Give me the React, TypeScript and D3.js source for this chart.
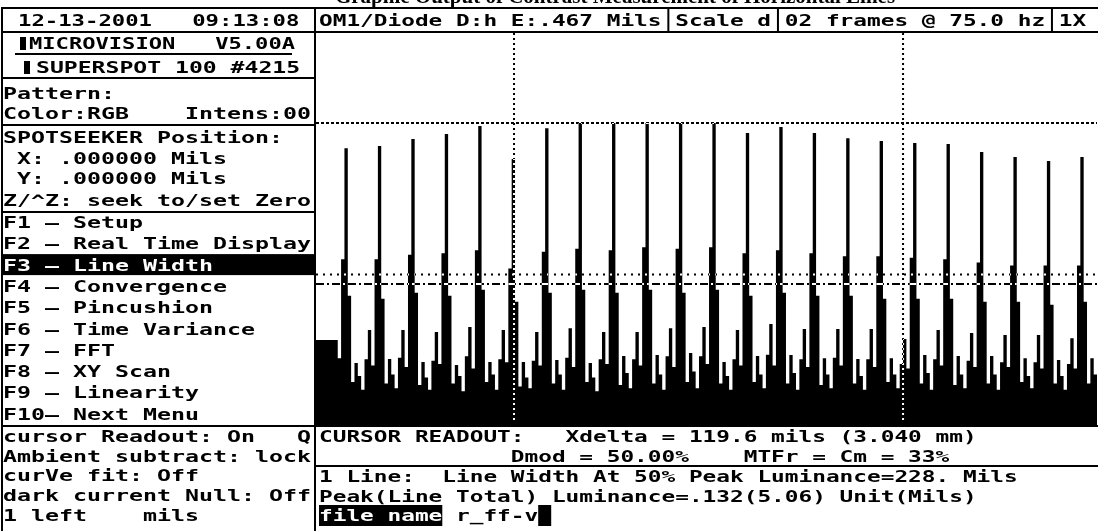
import React from 'react';
import * as d3 from 'd3';

// ---------- data ----------
const TITLE = 'Graphic Output of Contrast Measurement of Horizontal Lines';
const HEADER_DATE = '12-13-2001   09:13:08';
const HEADER_FIELDS = ['OM1/Diode D:h E:.467 Mils', 'Scale d', '02 frames @ 75.0 hz', '1X'];
const HEADER_FIELD_COLS = [0, 26, 34, 54];
const HEADER_SEP_COLS = [25.5, 33.5, 53.5];

const INSTRUMENT = 'MICROVISION   V5.00A';
const DEVICE = 'SUPERSPOT 100 #4215';

const LEFT_ROWS: [string, number][] = [
  ['Pattern:', 0],
  ['Color:RGB    Intens:00', 0],
  ['SPOTSEEKER Position:', 0],
  ['X: .000000 Mils', 1],
  ['Y: .000000 Mils', 1],
  ['Z/^Z: seek to/set Zero', 0],
];
const MENU_ITEMS = [
  'F1 — Setup',
  'F2 — Real Time Display',
  'F3 — Line Width',
  'F4 — Convergence',
  'F5 — Pincushion',
  'F6 — Time Variance',
  'F7 — FFT',
  'F8 — XY Scan',
  'F9 — Linearity',
  'F10— Next Menu',
];
const MENU_SELECTED = 2;
const STATUS_ROWS = [
  'cursor Readout: On   Q',
  'Ambient subtract: lock',
  'curVe fit: Off',
  'dark current Null: Off',
  '1 left    mils',
];
const READOUT_ROWS: [string, number][][] = [
  [['CURSOR READOUT:', 0], ['Xdelta = 119.6 mils (3.040 mm)', 18]],
  [['Dmod = 50.00%', 14], ['MTFr = Cm = 33%', 31]],
];
const RESULT_ROWS = [
  '1 Line:  Line Width At 50% Peak Luminance=228. Mils',
  'Peak(Line Total) Luminance=.132(5.06) Unit(Mils)',
];
const FILE_LABEL = 'file name';
const FILE_NAME = 'r_ff-v';

// luminance profile (% of peak), one value per sample across the scan
const luminance: number[] = [
  28.4, 28.4, 28.4, 28.4, 28.4, 28.4, 28.4, 22.4, 55.0, 91.7,
  43, 14.5, 20.8, 16.5, 12.0, 22.0, 31.7, 20.0, 55.0, 92.4,
  42, 14.0, 22.1, 17.0, 12.5, 22.5, 31.7, 19.5, 56.5, 94.7,
  44, 13.5, 21.1, 16.0, 12.0, 21.5, 31.0, 20.5, 57.0, 96.4,
  43, 14.0, 20.1, 16.5, 11.5, 23.0, 32.7, 19.0, 58.0, 99.0,
  45, 14.5, 21.1, 17.0, 12.0, 22.0, 31.7, 21.0, 52.0, 88.1,
  41, 13.0, 21.1, 16.0, 12.5, 21.5, 31.0, 20.0, 57.5, 98.3,
  44, 14.0, 21.8, 17.0, 12.0, 22.5, 32.3, 19.5, 58.5, 100,
  45, 14.5, 20.8, 16.0, 11.5, 22.0, 31.0, 20.5, 58.0, 100,
  44, 13.5, 23.1, 17.5, 12.5, 22.0, 31.0, 20.0, 59.0, 100,
  45, 14.0, 23.4, 17.0, 12.0, 23.0, 32.3, 19.5, 58.5, 100,
  44, 14.5, 24.1, 18.0, 12.5, 23.0, 32.7, 20.5, 59.0, 100,
  45, 14.0, 21.1, 16.5, 12.0, 22.0, 31.7, 20.0, 57.0, 96.7,
  43, 14.5, 23.1, 17.0, 12.5, 23.5, 33.7, 20.0, 58.0, 98.7,
  44, 14.0, 23.4, 17.5, 12.0, 22.0, 32.0, 19.5, 57.0, 96.7,
  43, 13.5, 22.4, 17.0, 12.5, 22.5, 32.0, 20.0, 56.0, 95.0,
  43, 14.0, 22.1, 16.5, 12.0, 22.0, 32.0, 19.5, 56.0, 94.1,
  42, 14.5, 22.4, 17.0, 12.5, 20.5, 28.7, 19.0, 55.5, 93.4,
  42, 14.0, 23.4, 17.5, 12.0, 22.0, 31.7, 20.0, 55.0, 93.1,
  42, 13.5, 23.1, 17.0, 12.5, 21.5, 30.7, 19.5, 54.0, 90.4,
  41, 14.0, 23.1, 17.0, 12.0, 21.0, 30.0, 19.5, 53.0, 88.8,
  41, 14.5, 22.4, 16.5, 12.5, 21.0, 30.0, 19.0, 53.0, 87.5,
  40, 14.0, 21.8, 16.5, 12.0, 20.5, 29.0, 19.0, 53.0, 88.8,
  41, 14.0, 22.4, 17.0, 13.0,
];
const PEAK_LEVEL = 100;
const HALF_LEVEL = 50;
const THRESHOLD_LEVEL = 46.9;
const CURSORS = [59.2, 175.5]; // sample positions

// ---------- layout ----------
const W = 1098;
const H = 531;
const FONT = '"DejaVu Sans Mono", monospace';
const PL = 316, PR = 1097, PT = 33, PB = 426;
const STEP = 3.345;
const LCW = 14, LX0 = 3;
const RCW = 13.7, RX0 = 319;

function Txt({ x, cy, text, cw, fill = '#000' }: { x: number; cy: number; text: string; cw: number; fill?: string }) {
  return (
    <text
      x={x}
      y={cy + 6}
      fontFamily={FONT}
      fontWeight="bold"
      fontSize={16}
      fill={fill}
      textLength={text.length * cw}
      lengthAdjust="spacingAndGlyphs"
      style={{ whiteSpace: 'pre' }}
    >
      {text}
    </text>
  );
}

export default function App() {
  const x = d3.scaleLinear().domain([0, luminance.length - 1]).range([PL, PL + (luminance.length - 1) * STEP]);
  const y = d3.scaleLinear().domain([0, 100]).range([PB, 123]);
  const area = d3
    .area<number>()
    .x((_, i) => x(i))
    .y0(y(0))
    .y1((d) => y(d))
    .curve(d3.curveStep);

  const leftRowY = [93, 113, 137, 158, 178, 200];
  const menuY = (i: number) => 222 + i * 21.3;
  const statusY = [436, 456, 475, 495, 515];
  const readoutY = [436, 456];
  const resultY = [476, 496];
  const fileY = 515;

  const blk = '#000';

  return (
    <svg width={W} height={H} style={{ position: 'absolute', left: 0, top: 0, display: 'block' }}>
      <rect width={W} height={H} fill="#fff" />
      <defs>
        <clipPath id="plotclip">
          <rect x={PL} y={PT} width={PR - PL} height={PB - PT} />
        </clipPath>
      </defs>

      {/* title (cut off at top, as in the original screen capture) */}
      <text x={615} y={3} textAnchor="middle" fontFamily='"Liberation Serif", serif' fontWeight="bold" fontSize={21} fill={blk}>
        {TITLE}
      </text>

      {/* waveform */}
      <path d={area(luminance) || ''} fill={blk} clipPath="url(#plotclip)" />

      {/* XOR reference lines */}
      <g style={{ mixBlendMode: 'difference' }} stroke="#fff" strokeWidth={2} fill="none">
        <line x1={PL} x2={PR} y1={y(PEAK_LEVEL)} y2={y(PEAK_LEVEL)} strokeDasharray="3 2" />
        <line x1={PL} x2={PR} y1={y(HALF_LEVEL)} y2={y(HALF_LEVEL)} strokeDasharray="2 5" />
        <line x1={PL} x2={PR} y1={y(THRESHOLD_LEVEL)} y2={y(THRESHOLD_LEVEL)} strokeDasharray="8 3 2 3" />
        {CURSORS.map((c, i) => (
          <line key={i} x1={x(c)} x2={x(c)} y1={PT} y2={421} strokeDasharray="2 3" />
        ))}
      </g>

      {/* frame lines */}
      <g stroke={blk} strokeWidth={2}>
        <line x1={1} x2={W} y1={8} y2={8} />
        <line x1={1} x2={W} y1={32} y2={32} />
        <line x1={2} x2={2} y1={7} y2={H} />
        <line x1={315} x2={315} y1={7} y2={H} />
        {HEADER_SEP_COLS.map((c, i) => (
          <line key={i} x1={RX0 + c * RCW} x2={RX0 + c * RCW} y1={8} y2={32} />
        ))}
        <line x1={15} x2={292} y1={54} y2={54} />
        <line x1={2} x2={315} y1={78} y2={78} />
        <line x1={2} x2={315} y1={125} y2={125} />
        <line x1={2} x2={315} y1={212} y2={212} />
        <line x1={2} x2={W} y1={426} y2={426} />
        <line x1={315} x2={W} y1={466} y2={466} />
      </g>

      {/* header */}
      <Txt x={18} cy={20} text={HEADER_DATE} cw={13.4} />
      {HEADER_FIELDS.map((t, i) => (
        <Txt key={i} x={RX0 + HEADER_FIELD_COLS[i] * RCW} cy={20} text={t} cw={RCW} />
      ))}

      {/* instrument info */}
      <rect x={20} y={37} width={6} height={13} fill={blk} />
      <Txt x={29} cy={43} text={INSTRUMENT} cw={13.3} />
      <rect x={24} y={61} width={6} height={13} fill={blk} />
      <Txt x={36} cy={67} text={DEVICE} cw={13.9} />

      {LEFT_ROWS.map(([t, c], i) => (
        <Txt key={i} x={LX0 + c * LCW} cy={leftRowY[i]} text={t} cw={LCW} />
      ))}

      {/* menu */}
      <rect x={3} y={menuY(MENU_SELECTED) - 10.5} width={311} height={21} fill={blk} />
      {MENU_ITEMS.map((t, i) => (
        <Txt key={i} x={LX0} cy={menuY(i)} text={t} cw={LCW} fill={i === MENU_SELECTED ? '#fff' : blk} />
      ))}

      {STATUS_ROWS.map((t, i) => (
        <Txt key={i} x={LX0} cy={statusY[i]} text={t} cw={LCW} />
      ))}

      {/* readout */}
      {READOUT_ROWS.map((row, r) =>
        row.map(([t, c], i) => <Txt key={r + '-' + i} x={RX0 + c * RCW} cy={readoutY[r]} text={t} cw={RCW} />)
      )}
      {RESULT_ROWS.map((t, i) => (
        <Txt key={i} x={RX0} cy={resultY[i]} text={t} cw={RCW} />
      ))}
      <rect x={RX0} y={fileY - 10} width={FILE_LABEL.length * RCW} height={21} fill={blk} />
      <Txt x={RX0} cy={fileY} text={FILE_LABEL} cw={RCW} fill="#fff" />
      <Txt x={RX0 + 10 * RCW} cy={fileY} text={FILE_NAME} cw={RCW} />
      <rect x={RX0 + 16 * RCW} y={fileY - 10} width={13} height={21} fill={blk} />
    </svg>
  );
}
